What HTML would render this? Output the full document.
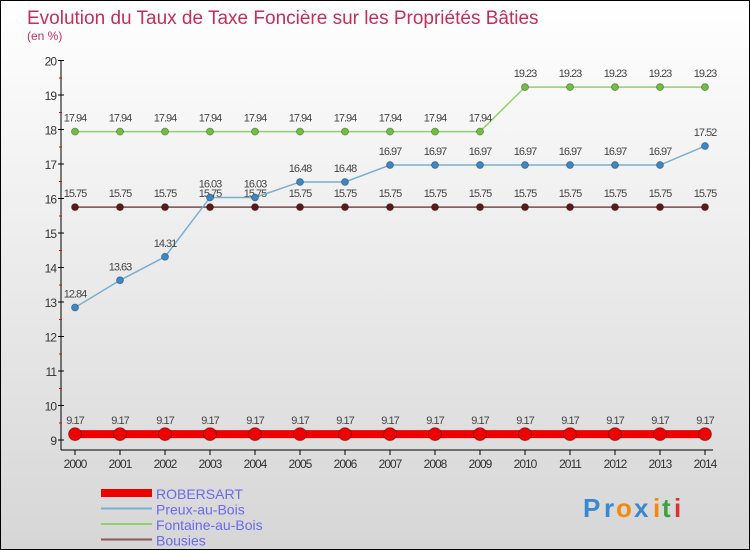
<!DOCTYPE html>
<html><head><meta charset="utf-8"><style>
body{margin:0}
#c{width:748px;height:548px;border:1px solid #000;background:linear-gradient(#fff,#d6d6d6);position:relative;overflow:hidden;font-family:"Liberation Sans",sans-serif}
</style></head><body>
<div id="c">
<svg id="s" width="748" height="548"></svg>
</div>
<script>
const years=[2000,2001,2002,2003,2004,2005,2006,2007,2008,2009,2010,2011,2012,2013,2014];
const robersart=[9.17,9.17,9.17,9.17,9.17,9.17,9.17,9.17,9.17,9.17,9.17,9.17,9.17,9.17,9.17];
const preux=[12.84,13.63,14.31,16.03,16.03,16.48,16.48,16.97,16.97,16.97,16.97,16.97,16.97,16.97,17.52];
const fontaine=[17.94,17.94,17.94,17.94,17.94,17.94,17.94,17.94,17.94,17.94,19.23,19.23,19.23,19.23,19.23];
const bousies=[15.75,15.75,15.75,15.75,15.75,15.75,15.75,15.75,15.75,15.75,15.75,15.75,15.75,15.75,15.75];
const yTicks=[9,10,11,12,13,14,15,16,17,18,19,20];
const NS="http://www.w3.org/2000/svg";
const s=document.getElementById('s');
const X=i=>74+45*i, Y=v=>439-(v-9)*34.5;
function el(t,a,p){const e=document.createElementNS(NS,t);for(const k in a)e.setAttribute(k,a[k]);(p||s).appendChild(e);return e;}
function tx(x,y,str,a){const e=el('text',Object.assign({x:x,y:y},a));e.textContent=str;return e;}
let t=tx(26,23,'Evolution du Taux de Taxe Foncière sur les Propriétés Bâties',{fill:'#c0305a','font-size':19});

t=tx(26,39,'(en %)',{fill:'#c0305a','font-size':12});

let a=el('line',{x1:60,y1:59,x2:60,y2:449,stroke:'#000'});

a=el('line',{x1:60,y1:449,x2:712,y2:449,stroke:'#000'});

yTicks.forEach(v=>{const y=Y(v);el('line',{x1:57,y1:y,x2:63,y2:y,stroke:'#000'});
 if(v<20)el('line',{x1:58,y1:y-17,x2:61,y2:y-17,stroke:'#e00'});
 const l=tx(55,y+5,String(v),{'text-anchor':'end','font-size':12,fill:'#333','letter-spacing':'-1'});
 });
years.forEach((yr,i)=>{el('line',{x1:X(i),y1:449,x2:X(i),y2:454,stroke:'#000'});
 const l=tx(X(i),467,String(yr),{'text-anchor':'middle','font-size':12,fill:'#333','letter-spacing':'-1'});
 });
function series(d,name,col,w,r,dot){
 const g=el('g',{});
 el('polyline',{points:d.map((v,i)=>X(i)+','+Y(v)).join(' '),fill:'none',stroke:col,'stroke-width':w},g);
 d.forEach((v,i)=>{const c=el('circle',{cx:X(i),cy:Y(v),r:r,fill:dot,stroke:'rgba(0,0,0,0.3)'},g);
  
  const l=tx(X(i),Y(v)-10,v.toFixed(2).replace(/0$/,''),{'text-anchor':'middle','font-size':11,fill:'#444','letter-spacing':'-1'},g);
  });}
series(bousies,'bousies','#7a4a4a',1.5,3.5,'#5a1a1a');
series(fontaine,'fontaine','#90d070',1.5,3.5,'#70c040');
series(preux,'preux','#7aaed0',1.5,3.5,'#3a88c8');
series(robersart,'robersart','#e00',8,6.5,'#e00');
const leg=[['ROBERSART','#e00',8],['Preux-au-Bois','#7aaed0',2],['Fontaine-au-Bois','#90d070',2],['Bousies','#8a5a5a',2]];
leg.forEach((L,i)=>{const g=el('g',{});
 const y=492+i*15.5;el('line',{x1:100,y1:y,x2:151,y2:y,stroke:L[1],'stroke-width':L[2]},g);
 tx(155,y+6,L[0],{'font-size':14,fill:'#6a6af0'},g);});
const lg=el('g',{});
[['P','#3a88d0',582],['r','#3a88d0',603],['o','#f08a10',615],['x','#3a88d0',633],['i','#f08a10',652],['t','#40a040',661],['i','#e03030',673]].forEach(c=>tx(c[2],516,c[0],{'font-size':26,fill:c[1],'font-weight':'bold'},lg));
</script>
</body></html>
